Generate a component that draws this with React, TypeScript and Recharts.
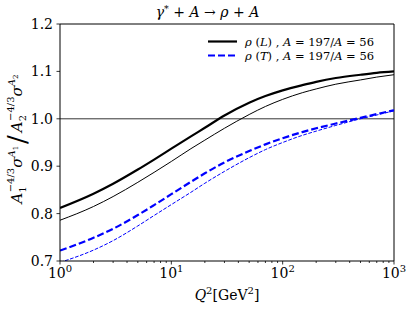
import React from "react";
import { LineChart, Line, XAxis, YAxis, ReferenceLine, Legend } from "recharts";

const qValues = [1, 2, 3, 5, 7, 10, 15, 20, 30, 50, 70, 100, 150, 200, 300, 500, 700, 1000];
const rhoLThick = [0.812, 0.842, 0.863, 0.893, 0.914, 0.937, 0.963, 0.981, 1.007, 1.034, 1.048, 1.06, 1.071, 1.078, 1.086, 1.093, 1.097, 1.1];
const rhoLThin = [0.786, 0.815, 0.836, 0.866, 0.887, 0.91, 0.937, 0.955, 0.98, 1.009, 1.026, 1.041, 1.055, 1.063, 1.073, 1.082, 1.088, 1.093];
const rhoTThick = [0.722, 0.749, 0.768, 0.797, 0.818, 0.841, 0.867, 0.885, 0.908, 0.932, 0.946, 0.959, 0.972, 0.98, 0.99, 1.002, 1.01, 1.018];
const rhoTThin = [0.697, 0.723, 0.743, 0.774, 0.796, 0.819, 0.845, 0.864, 0.889, 0.918, 0.935, 0.95, 0.965, 0.974, 0.986, 1.0, 1.008, 1.017];

const xTicks = [1, 2, 3, 4, 5, 6, 7, 8, 9, 10, 20, 30, 40, 50, 60, 70, 80, 90, 100, 200, 300, 400, 500, 600, 700, 800, 900, 1000];
const xMajor = [1, 10, 100, 1000];
const yTicks = [0.7, 0.8, 0.9, 1.0, 1.1, 1.2];

const data = qValues.map((q, i) => ({
  q,
  lThick: rhoLThick[i],
  lThin: rhoLThin[i],
  tThick: rhoTThick[i],
  tThin: rhoTThin[i],
}));

const FONT = "DejaVu Serif";

const XTick = (props: any) => {
  const { x, y, payload } = props;
  const v = payload.value;
  const major = xMajor.includes(v);
  const exp = Math.round(Math.log10(v));
  return (
    <g>
      <line x1={x} x2={x} y1={y} y2={y + (major ? 3.5 : 2)} stroke="#000" strokeWidth={0.8} />
      {major && (
        <text x={x} y={y + 17} textAnchor="middle" style={{ fontFamily: FONT }} fontSize={14} fill="#000">
          10
          <tspan dy={-6} fontSize={10}>{exp}</tspan>
        </text>
      )}
    </g>
  );
};

const YLabel = () => (
  <text transform="translate(22,139) rotate(-90)" textAnchor="middle" style={{ fontFamily: FONT }} fontSize={15} fill="#000">
    <tspan fontStyle="italic">A</tspan>
    <tspan fontSize={10} dy={4}>1</tspan>
    <tspan fontSize={10} dx={-6} dy={-12}>−4/3</tspan>
    <tspan fontStyle="italic" dy={8}>σ</tspan>
    <tspan fontSize={10} fontStyle="italic" dy={-7}>A</tspan>
    <tspan fontSize={7} dy={3}>1</tspan>
    <tspan fontSize={26} dx={2} dy={8}>/</tspan>
    <tspan fontStyle="italic" dx={3} dy={-4}>A</tspan>
    <tspan fontSize={10} dy={4}>2</tspan>
    <tspan fontSize={10} dx={-6} dy={-12}>−4/3</tspan>
    <tspan fontStyle="italic" dy={8}>σ</tspan>
    <tspan fontSize={10} fontStyle="italic" dy={-7}>A</tspan>
    <tspan fontSize={7} dy={3}>2</tspan>
  </text>
);

const LegendContent = () => (
  <svg width={200} height={34} style={{ display: "block" }}>
    <line x1={8} x2={37} y1={11.5} y2={11.5} stroke="#000" strokeWidth={2.2} />
    <line x1={8} x2={37} y1={25.5} y2={25.5} stroke="#0000ff" strokeWidth={2.2} strokeDasharray="7 3" />
    <text x={45} y={16} style={{ fontFamily: FONT }} fontSize={11.5} fill="#000">
      <tspan fontStyle="italic">ρ</tspan> (<tspan fontStyle="italic">L</tspan>) , <tspan fontStyle="italic">A</tspan> = 197/<tspan fontStyle="italic">A</tspan> = 56
    </text>
    <text x={45} y={30} style={{ fontFamily: FONT }} fontSize={11.5} fill="#000">
      <tspan fontStyle="italic">ρ</tspan> (<tspan fontStyle="italic">T</tspan>) , <tspan fontStyle="italic">A</tspan> = 197/<tspan fontStyle="italic">A</tspan> = 56
    </text>
  </svg>
);

export default function App() {
  return (
    <div style={{ position: "absolute", left: 0, top: 0, width: 415, height: 311, background: "#fff", fontFamily: FONT }}>
      <LineChart width={415} height={311} data={data} margin={{ top: 24, right: 21, bottom: 20, left: 15 }} style={{ fontFamily: FONT }}>
        <XAxis
          dataKey="q"
          type="number"
          scale="log"
          domain={[1, 1000]}
          ticks={xTicks}
          interval={0}
          allowDataOverflow
          tickSize={0}
          tickMargin={0}
          tickLine={false}
          tick={<XTick />}
          height={30}
          stroke="#000"
          axisLine={{ stroke: "#000", strokeWidth: 1 }}
        />
        <YAxis
          type="number"
          domain={[0.7, 1.2]}
          ticks={yTicks}
          interval={0}
          allowDataOverflow
          width={45}
          tickSize={3.5}
          tickMargin={3.5}
          tickFormatter={(v: number) => v.toFixed(1)}
          tick={{ fontFamily: FONT, fontSize: 14, fill: "#000", style: { fontFamily: FONT } }}
          tickLine={{ stroke: "#000", strokeWidth: 0.8 }}
          axisLine={{ stroke: "#000", strokeWidth: 1 }}
          label={{ content: () => <YLabel /> }}
        />
        <ReferenceLine y={1.2} stroke="#000" strokeWidth={1} />
        <ReferenceLine x={1000} stroke="#000" strokeWidth={1} />
        <ReferenceLine y={1.0} stroke="#000" strokeWidth={0.8} />
        <Line dataKey="lThin" stroke="#000" strokeWidth={1} dot={false} type="monotone" isAnimationActive={false} />
        <Line dataKey="tThin" stroke="#0000ff" strokeWidth={1} strokeDasharray="3.7 1.6" dot={false} type="monotone" isAnimationActive={false} />
        <Line dataKey="lThick" stroke="#000" strokeWidth={2.2} dot={false} type="monotone" isAnimationActive={false} />
        <Line dataKey="tThick" stroke="#0000ff" strokeWidth={2.2} strokeDasharray="7 3" dot={false} type="monotone" isAnimationActive={false} />
        <Legend
          layout="vertical"
          align="center"
          verticalAlign="middle"
          content={() => <LegendContent />}
          wrapperStyle={{ position: "absolute", left: 200, top: 30, width: 200, height: 34 }}
        />
      </LineChart>
      <svg width={415} height={311} style={{ position: "absolute", left: 0, top: 0, pointerEvents: "none", fontFamily: FONT }}>
        <text x={207.5} y={17} textAnchor="middle" fontSize={14} fill="#000">
          <tspan fontStyle="italic">γ</tspan>
          <tspan dy={-5} fontSize={9.5}>*</tspan>
          <tspan dy={5}> + </tspan>
          <tspan fontStyle="italic">A</tspan>
          <tspan> → </tspan>
          <tspan fontStyle="italic">ρ</tspan>
          <tspan> + </tspan>
          <tspan fontStyle="italic">A</tspan>
        </text>
        <text x={227} y={300} textAnchor="middle" fontSize={14} fill="#000">
          <tspan fontStyle="italic">Q</tspan>
          <tspan dy={-6} fontSize={10}>2</tspan>
          <tspan dy={6}>[GeV</tspan>
          <tspan dy={-6} fontSize={10}>2</tspan>
          <tspan dy={6}>]</tspan>
        </text>
      </svg>
    </div>
  );
}
